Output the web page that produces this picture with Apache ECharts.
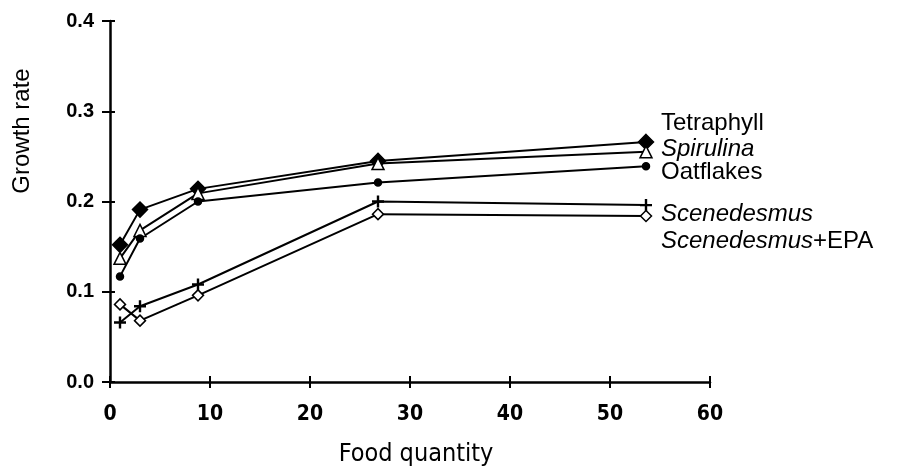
<!DOCTYPE html>
<html>
<head>
<meta charset="utf-8">
<script src="https://cdn.jsdelivr.net/npm/echarts@6/dist/echarts.min.js"></script>
<style>
  html, body { margin: 0; padding: 0; background: #fff; }
  #chart { width: 902px; height: 472px; }
</style>
</head>
<body>
<div id="chart"></div>
<script>
  // food quantity at which growth was measured
  const foodQty = [1, 3, 8.8, 26.8, 53.6];

  const tetraphyll = [0.152, 0.191, 0.214, 0.245, 0.266];
  const spirulina = [0.137, 0.168, 0.209, 0.242, 0.255];
  const oatflakes = [0.117, 0.159, 0.200, 0.221, 0.239];
  const scenedesmus = [0.066, 0.084, 0.108, 0.200, 0.196];
  const scenedesmusEpa = [0.086, 0.068, 0.096, 0.186, 0.184];

  const xTicks = [0, 10, 20, 30, 40, 50, 60];
  const yTicks = [0.0, 0.1, 0.2, 0.3, 0.4];

  const pairs = (ys) => foodQty.map((x, i) => [x, ys[i]]);

  const plusPath = 'path://M4,0H6V4H10V6H6V10H4V6H0V4H4Z';
  const narrow = '"DejaVu Sans Condensed", "Liberation Sans", sans-serif';
  const sans = '"Liberation Sans", Arial, sans-serif';

  const chart = echarts.init(document.getElementById('chart'), null, { renderer: 'canvas' });

  const lineBase = {
    type: 'line',
    lineStyle: { color: '#000', width: 2 },
    itemStyle: { color: '#000', borderColor: '#000', borderWidth: 1.5 },
    emphasis: { disabled: true },
    animation: false,
    z: 3
  };

  const axisLineStyle = { lineStyle: { color: '#000', width: 2.5 } };
  const tickStyle = { lineStyle: { color: '#000', width: 2 } };

  chart.setOption({
    backgroundColor: '#fff',
    grid: { left: 110, right: 192, top: 21, bottom: 89 },
    xAxis: [{
      type: 'value',
      min: xTicks[0], max: xTicks[xTicks.length - 1], interval: 10,
      name: 'Food quantity', nameLocation: 'middle', nameGap: 60,
      nameTextStyle: { color: '#000', fontSize: 25, fontFamily: narrow, padding: [0, 0, 0, 12] },
      axisLine: axisLineStyle,
      axisTick: { show: true, length: 6, ...tickStyle },
      axisLabel: { color: '#000', fontSize: 21, fontWeight: 'bold', fontFamily: narrow, margin: 22 },
      splitLine: { show: false }
    }, {
      type: 'value', position: 'bottom',
      min: xTicks[0], max: xTicks[xTicks.length - 1], interval: 10,
      axisLine: { show: false },
      axisTick: { show: true, inside: true, length: 6, ...tickStyle },
      axisLabel: { show: false },
      splitLine: { show: false }
    }],
    yAxis: [{
      type: 'value',
      min: yTicks[0], max: yTicks[yTicks.length - 1], interval: 0.1,
      axisLine: axisLineStyle,
      axisTick: { show: true, length: 8, ...tickStyle },
      axisLabel: {
        color: '#000', fontSize: 20, fontWeight: 'bold', fontFamily: sans, margin: 16,
        formatter: (v) => v.toFixed(1)
      },
      splitLine: { show: false }
    }, {
      type: 'value', position: 'left',
      min: yTicks[0], max: yTicks[yTicks.length - 1], interval: 0.1,
      axisLine: { show: false },
      axisTick: { show: true, inside: true, length: 5, ...tickStyle },
      axisLabel: { show: false },
      splitLine: { show: false }
    }],
    series: [
      { ...lineBase, name: 'Tetraphyll', data: pairs(tetraphyll),
        symbol: 'diamond', symbolSize: 15 },
      { ...lineBase, name: 'Spirulina', data: pairs(spirulina),
        symbol: 'triangle', symbolSize: 12,
        itemStyle: { color: '#fff', borderColor: '#000', borderWidth: 1.5 } },
      { ...lineBase, name: 'Oatflakes', data: pairs(oatflakes),
        symbol: 'circle', symbolSize: 7 },
      { ...lineBase, name: 'Scenedesmus', data: pairs(scenedesmus),
        symbol: plusPath, symbolSize: 12,
        itemStyle: { color: '#000', borderWidth: 0 } },
      { ...lineBase, name: 'Scenedesmus+EPA', data: pairs(scenedesmusEpa),
        symbol: 'diamond', symbolSize: 11,
        itemStyle: { color: '#fff', borderColor: '#000', borderWidth: 1.5 } }
    ],
    graphic: [
      { type: 'text', x: 22, y: 131, rotation: Math.PI / 2,
        style: { text: 'Growth rate', fill: '#000', font: '24px ' + sans, align: 'center', verticalAlign: 'middle' } },
      { type: 'text', x: 661, y: 123,
        style: { text: 'Tetraphyll', fill: '#000', font: '24px ' + sans, verticalAlign: 'middle' } },
      { type: 'text', x: 661, y: 149,
        style: { text: 'Spirulina', fill: '#000', font: 'italic 24px ' + sans, verticalAlign: 'middle' } },
      { type: 'text', x: 661, y: 172,
        style: { text: 'Oatflakes', fill: '#000', font: '24px ' + sans, verticalAlign: 'middle' } },
      { type: 'text', x: 661, y: 214,
        style: { text: 'Scenedesmus', fill: '#000', font: 'italic 24px ' + sans, verticalAlign: 'middle' } },
      { type: 'text', x: 661, y: 241,
        style: {
          text: '{i|Scenedesmus}{n|+EPA}', verticalAlign: 'middle',
          rich: {
            i: { fill: '#000', font: 'italic 24px ' + sans },
            n: { fill: '#000', font: '24px ' + sans }
          }
        } }
    ]
  });
</script>
</body>
</html>
